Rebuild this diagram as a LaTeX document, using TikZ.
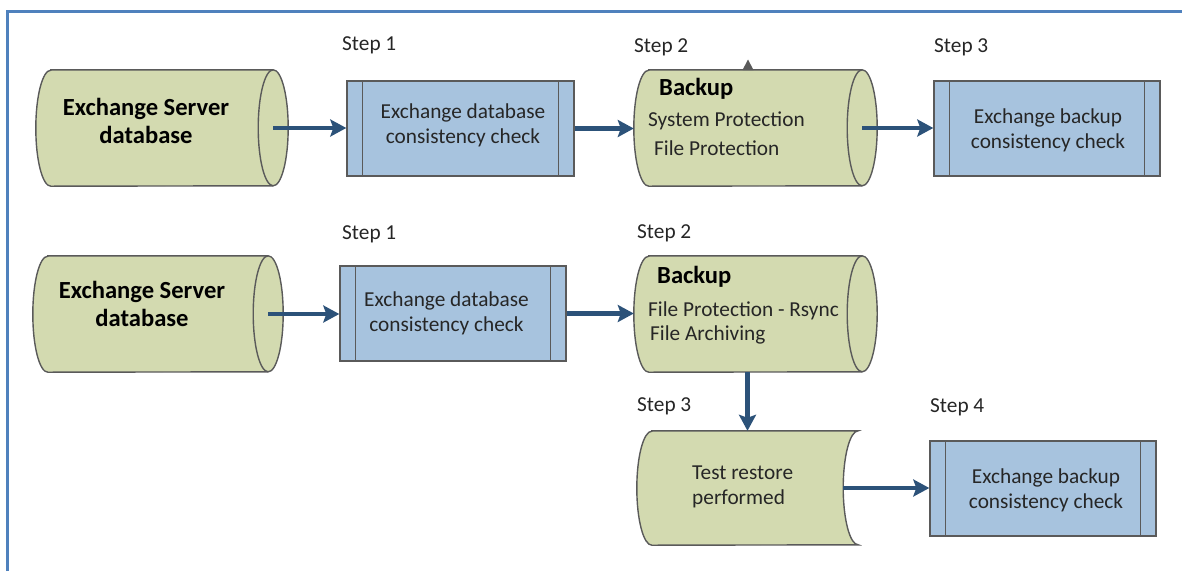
\documentclass[tikz,border=0pt]{standalone}
\usepackage{fontspec}
\setmainfont{Carlito}
\usetikzlibrary{arrows.meta,calc}
\definecolor{frameblue}{HTML}{4F81BD}
\definecolor{olivefill}{HTML}{D3DAB0}
\definecolor{procfill}{HTML}{A7C3DE}
\definecolor{edgegray}{HTML}{5A5A5A}
\definecolor{arrowblue}{HTML}{2C5279}
\definecolor{txt}{HTML}{262626}
\newcommand{\drawcyl}[1]{%
  \draw[shapeedge,fill=olivefill] ([xshift=15pt]#1.north west) -- ([xshift=-15pt]#1.north east)
    arc[start angle=90,end angle=-90,x radius=15pt,y radius=58pt]
    -- ([xshift=15pt]#1.south west)
    arc[start angle=270,end angle=90,x radius=15pt,y radius=58pt] -- cycle;
  \draw[shapeedge] ([xshift=-15pt]#1.north east)
    arc[start angle=90,end angle=270,x radius=15pt,y radius=58pt];}
\newcommand{\procbars}[1]{%
  \draw[shapeedge] ([xshift=16pt]#1.north west) -- ([xshift=16pt]#1.south west);
  \draw[shapeedge] ([xshift=-16pt]#1.north east) -- ([xshift=-16pt]#1.south east);}
\begin{document}
\begin{tikzpicture}[x=1pt,y=-1pt,
  shapeedge/.style={draw=edgegray,line width=1.4pt},
  procbox/.style={shapeedge,fill=procfill,minimum width=227pt,minimum height=95pt,inner sep=0pt},
  holder/.style={inner sep=0pt,minimum height=116pt},
  normtext/.style={inner sep=0pt,text=txt,font=\fontsize{21.3}{25}\selectfont},
  boldtext/.style={inner sep=0pt,text=black,font=\fontsize{24.6}{28}\selectfont\bfseries},
  steplabel/.style={normtext,anchor=west},
  flow/.style={draw=arrowblue,line width=4.2pt,-{Stealth[length=16pt,width=17pt,inset=3pt]}}
]
\useasboundingbox (0,0) rectangle (1182,571);
% frame
\draw[frameblue,line width=3.6pt] (7.5,571) -- (7.5,11.5) -- (1182,11.5);

% placeholders
\node[holder,minimum width=252pt] (db1) at (162,128) {};
\node[holder,minimum width=243pt] (bk1) at (755.5,128) {};
\node[holder,minimum width=250pt] (db2) at (158,314) {};
\node[holder,minimum width=243pt] (bk2) at (755.5,314) {};
\node[inner sep=0pt,minimum width=221pt,minimum height=114pt] (tr) at (747.5,488) {};

\drawcyl{db1}
\drawcyl{bk1}
\drawcyl{db2}
\drawcyl{bk2}
\draw[shapeedge,fill=olivefill] ([xshift=15pt]tr.north west) -- (tr.north east)
  arc[start angle=90,end angle=270,x radius=15pt,y radius=57pt]
  -- ([xshift=15pt]tr.south west)
  arc[start angle=270,end angle=90,x radius=15pt,y radius=57pt] -- cycle;

% process boxes
\node[procbox] (pp1) at (460.5,128.5) {};
\node[procbox,minimum width=226pt] (bb1) at (1047,128.5) {};
\node[procbox,minimum width=226pt] (pp2) at (453,313.5) {};
\node[procbox,minimum width=226pt] (bb2) at (1043,488.5) {};
\procbars{pp1}
\procbars{bb1}
\procbars{pp2}
\procbars{bb2}

% small marker on top of backup
\fill[edgegray] (742.5,70) -- (748,59.5) -- (753.5,70) -- cycle;

% texts
\node[boldtext,align=center] (t1) at (146,121) {Exchange Server\\database};
\node[boldtext,align=center] (t2) at (142,303.5) {Exchange Server\\database};
\node[normtext,align=center] (t3) at (463,125.5) {Exchange database\\consistency check};
\node[normtext,align=center] (t4) at (446.5,313.5) {Exchange database\\consistency check};
\node[normtext,align=center] (t5) at (1048,130.5) {Exchange backup\\consistency check};
\node[normtext,align=center] (t6) at (1046,490.5) {Exchange backup\\consistency check};

\node[boldtext,anchor=west] (b1a) at (659,89) {Backup};
\node[normtext,anchor=west] (b1b) at (648,121) {System Protection};
\node[normtext,anchor=west] (b1c) at (654,148) {File Protection};
\node[boldtext,anchor=west] (b2a) at (657,277) {Backup};
\node[normtext,anchor=west] (b2b) at (648,311) {File Protection - Rsync};
\node[normtext,anchor=west] (b2c) at (650,335) {File Archiving};
\node[normtext,anchor=west,align=left] (t7) at (692,487) {Test restore\\performed};

% step labels
\node[steplabel] (s11) at (342,45) {Step 1};
\node[steplabel] (s12) at (634,47) {Step 2};
\node[steplabel] (s13) at (934,47) {Step 3};
\node[steplabel] (s21) at (342,234) {Step 1};
\node[steplabel] (s22) at (637,233) {Step 2};
\node[steplabel] (s23) at (637,406) {Step 3};
\node[steplabel] (s24) at (930,407) {Step 4};

% connector start points (centres of the end ellipses)
\coordinate (o1) at ([xshift=-15pt]db1.east);
\coordinate (o2) at ([xshift=-15pt]bk1.east);
\coordinate (o3) at ([xshift=-15pt]db2.east);
\coordinate (o4) at ([xshift=-15pt]tr.east);
\coordinate (o5) at (bk2.south -| tr.north);

% connectors
\draw[flow] (o1) -- (o1 -| pp1.west);
\draw[flow] (pp1.east) -- (pp1.east -| bk1.west);
\draw[flow] (o2) -- (o2 -| bb1.west);
\draw[flow] (o3) -- (o3 -| pp2.west);
\draw[flow] (pp2.east) -- (pp2.east -| bk2.west);
\draw[flow] (o5) -- (tr.north);
\draw[flow] (o4) -- (o4 -| bb2.west);
\end{tikzpicture}
\end{document}
